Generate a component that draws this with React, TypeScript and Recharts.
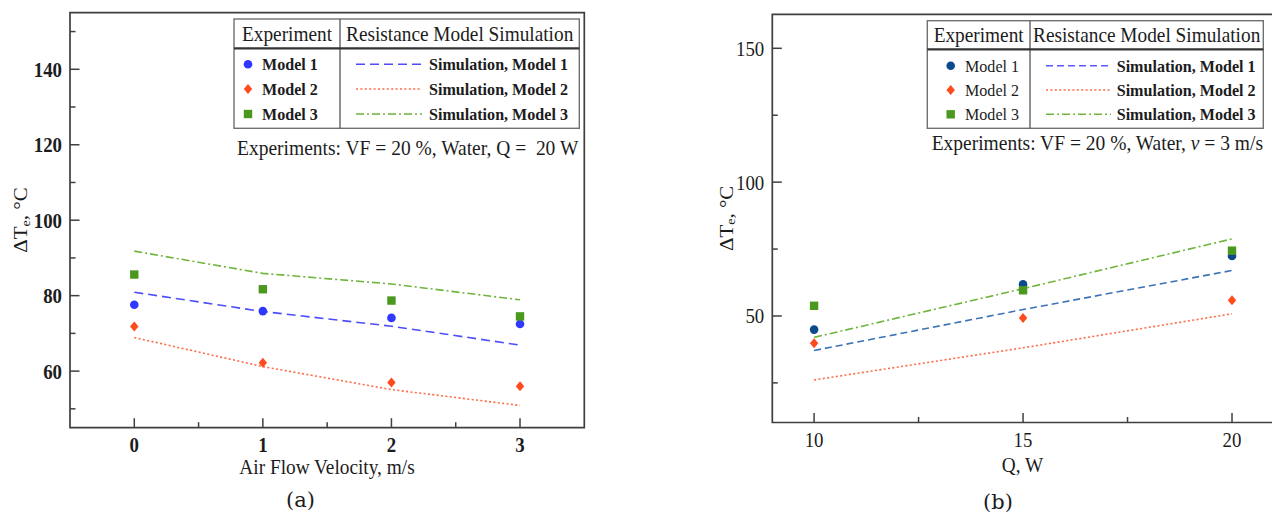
import React from 'react';
import { ComposedChart, Line, Scatter, XAxis, YAxis, ReferenceArea } from 'recharts';

const FONT = '"Liberation Serif", "Times New Roman", Times, serif';
const CAPTION_FONT = '"DejaVu Serif", "Liberation Serif", serif';
const INK = '#1c1c1c';
const FRAME = '#3f3f3f';
const SX = 0.92; // slightly condensed lettering

// ---- Panel (a): temperature rise vs. air flow velocity (Q = 20 W) ----
const velocity = [0, 1, 2, 3];
const velocityTicks = [0, 0.5, 1, 1.5, 2, 2.5, 3];
const velocityLabels = [0, 1, 2, 3];
const dtTicksA = [50, 60, 70, 80, 90, 100, 110, 120, 130, 140, 150];
const dtLabelsA = [60, 80, 100, 120, 140];
const expModel1A = [77.6, 75.9, 74.1, 72.5];
const expModel2A = [71.8, 62.2, 57.0, 56.0];
const expModel3A = [85.6, 81.7, 78.7, 74.5];
const simModel1A = [80.9, 75.8, 71.9, 66.9];
const simModel2A = [68.9, 61.2, 55.1, 50.9];
const simModel3A = [91.8, 85.9, 83.1, 78.9];

// ---- Panel (b): temperature rise vs. heat load (v = 3 m/s) ----
const heatLoad = [10, 15, 20];
const heatTicks = [10, 12.5, 15, 17.5, 20];
const heatLabels = [10, 15, 20];
const dtTicksB = [25, 50, 75, 100, 125, 150];
const dtLabelsB = [50, 100, 150];
const expModel1B = [44.9, 61.8, 72.4];
const expModel2B = [39.8, 49.2, 55.9];
const expModel3B = [53.8, 59.6, 74.4];
const simModel1B = [37.1, 52.4, 67.0];
const simModel2B = [26.1, 38.1, 50.8];
const simModel3B = [42.0, 60.2, 78.8];

const expNames = ['Model 1', 'Model 2', 'Model 3'];
const simNames = ['Simulation, Model 1', 'Simulation, Model 2', 'Simulation, Model 3'];

type MarkerKind = 'circle' | 'diamond' | 'square';

const toPoints = (xs: number[], ys: number[]) => xs.map((x, i) => ({ x, y: ys[i] }));

function Marker({ kind, cx, cy, color }: { kind: MarkerKind; cx: number; cy: number; color: string }) {
  if (kind === 'circle') return <circle cx={cx} cy={cy} r={4.3} fill={color} />;
  if (kind === 'square') return <rect x={cx - 4.2} y={cy - 4.2} width={8.4} height={8.4} fill={color} />;
  return <path d={`M${cx},${cy - 5}L${cx + 4.2},${cy}L${cx},${cy + 5}L${cx - 4.2},${cy}Z`} fill={color} />;
}

function Txt({ x, y, anchor = 'start', size, weight = 400, family = FONT, sx = SX, children }: any) {
  return (
    <text
      transform={`translate(${x} ${y}) scale(${sx} 1)`}
      textAnchor={anchor}
      fontSize={size}
      fontWeight={weight}
      fontFamily={family}
      fill={INK}
      xmlSpace="preserve"
      style={{ whiteSpace: 'pre' }}
    >
      {children}
    </text>
  );
}

// inward-pointing ticks on the left axis; only major values carry a label
const makeLeftTick = (majors: number[], bold: boolean, margin: number) => (props: any) => {
  const { x, y, payload } = props;
  const major = majors.includes(payload.value);
  const ax = x + margin;
  return (
    <g>
      <line x1={ax} x2={ax + (major ? 9.5 : 5.5)} y1={y} y2={y} stroke={FRAME} strokeWidth={1.5} />
      {major && (
        <Txt x={x} y={y + 7.5} anchor="end" size={20.5} weight={bold ? 700 : 400}>
          {String(payload.value)}
        </Txt>
      )}
    </g>
  );
};

// inward-pointing ticks on the bottom axis
const makeBottomTick = (majors: number[], bold: boolean, margin: number) => (props: any) => {
  const { x, y, payload } = props;
  const major = majors.includes(payload.value);
  const ay = y - margin;
  return (
    <g>
      <line x1={x} x2={x} y1={ay} y2={ay - (major ? 9.5 : 5.5)} stroke={FRAME} strokeWidth={1.5} />
      {major && (
        <Txt x={x} y={y} anchor="middle" size={20.5} weight={bold ? 700 : 400}>
          {String(payload.value)}
        </Txt>
      )}
    </g>
  );
};

type ExpSeries = { values: number[]; color: string; kind: MarkerKind };
type SimSeries = { values: number[]; color: string; dash: string; legendColor: string };

function Panel(props: {
  width: number;
  height: number;
  margin: { top: number; right: number; bottom: number; left: number };
  xs: number[];
  xDomain: [number, number];
  xTicks: number[];
  xLabels: number[];
  yDomain: [number, number];
  yTicks: number[];
  yLabels: number[];
  boldTicks: boolean;
  exp: ExpSeries[];
  sim: SimSeries[];
}) {
  const { width, height, margin, xs, xDomain, xTicks, xLabels, yDomain, yTicks, yLabels, boldTicks, exp, sim } = props;
  const xMargin = 24.5;
  const yMargin = 8;
  return (
    <ComposedChart width={width} height={height} margin={margin}>
      <XAxis
        type="number"
        dataKey="x"
        domain={xDomain}
        ticks={xTicks}
        interval={0}
        height={1}
        axisLine={false}
        tickLine={false}
        tickSize={0}
        tickMargin={xMargin}
        tick={makeBottomTick(xLabels, boldTicks, xMargin)}
        allowDataOverflow
      />
      <YAxis
        type="number"
        dataKey="y"
        domain={yDomain}
        ticks={yTicks}
        interval={0}
        width={1}
        axisLine={false}
        tickLine={false}
        tickSize={0}
        tickMargin={yMargin}
        tick={makeLeftTick(yLabels, boldTicks, yMargin)}
        allowDataOverflow
      />
      <ReferenceArea
        x1={xDomain[0]}
        x2={xDomain[1]}
        y1={yDomain[0]}
        y2={yDomain[1]}
        fill="none"
        fillOpacity={0}
        stroke={FRAME}
        strokeWidth={1.7}
        ifOverflow="visible"
      />
      {sim.map((s, i) => (
        <Line
          key={'sim' + i}
          data={toPoints(xs, s.values)}
          dataKey="y"
          type="linear"
          stroke={s.color}
          strokeWidth={1.6}
          strokeDasharray={s.dash}
          dot={false}
          activeDot={false}
          isAnimationActive={false}
        />
      ))}
      {exp.map((e, i) => (
        <Scatter
          key={'exp' + i}
          data={toPoints(xs, e.values)}
          fill={e.color}
          shape={(p: any) => <Marker kind={e.kind} cx={p.cx} cy={p.cy} color={e.color} />}
          isAnimationActive={false}
        />
      ))}
    </ComposedChart>
  );
}

const ORANGE = '#ff4a1e';
const ORANGE_LINE = '#ff6a45';
const GREEN = '#4b981f';
const GREEN_LINE = '#6fb43c';

const expA: ExpSeries[] = [
  { values: expModel1A, color: '#3038ff', kind: 'circle' },
  { values: expModel2A, color: ORANGE, kind: 'diamond' },
  { values: expModel3A, color: GREEN, kind: 'square' },
];
const simA: SimSeries[] = [
  { values: simModel1A, color: '#4d4dff', dash: '9 5', legendColor: '#4d4dff' },
  { values: simModel2A, color: ORANGE_LINE, dash: '2 2.4', legendColor: ORANGE_LINE },
  { values: simModel3A, color: GREEN_LINE, dash: '8 3 2 3', legendColor: GREEN_LINE },
];
const expB: ExpSeries[] = [
  { values: expModel1B, color: '#0c4a8e', kind: 'circle' },
  { values: expModel2B, color: ORANGE, kind: 'diamond' },
  { values: expModel3B, color: GREEN, kind: 'square' },
];
const simB: SimSeries[] = [
  { values: simModel1B, color: '#3c72b6', dash: '7 4', legendColor: '#5a5aff' },
  { values: simModel2B, color: ORANGE_LINE, dash: '2 2.4', legendColor: ORANGE_LINE },
  { values: simModel3B, color: GREEN_LINE, dash: '8 3 2 3', legendColor: GREEN_LINE },
];

type KeyLayout = {
  left: number;
  top: number;
  right: number;
  bottom: number;
  divider: number;
  headerBottom: number;
  rowY: number[];
  symX: number;
  expTextX: number;
  lineX1: number;
  lineX2: number;
  simTextX: number;
  expBold: boolean;
};

function KeyTable({ k, exp, sim }: { k: KeyLayout; exp: ExpSeries[]; sim: SimSeries[] }) {
  return (
    <g>
      <rect x={k.left} y={k.top} width={k.right - k.left} height={k.bottom - k.top} fill="#fff" stroke="#707070" strokeWidth={1.4} />
      <line x1={k.divider} x2={k.divider} y1={k.top} y2={k.bottom} stroke="#555" strokeWidth={1.3} />
      <line x1={k.left} x2={k.right} y1={k.headerBottom} y2={k.headerBottom} stroke="#333" strokeWidth={2.2} />
      <Txt x={(k.left + k.divider) / 2} y={k.headerBottom - 7} anchor="middle" size={21}>Experiment</Txt>
      <Txt x={(k.divider + k.right) / 2} y={k.headerBottom - 7} anchor="middle" size={21}>Resistance Model Simulation</Txt>
      {exp.map((e, i) => (
        <g key={'ke' + i}>
          <Marker kind={e.kind} cx={k.symX} cy={k.rowY[i]} color={e.color} />
          <Txt x={k.expTextX} y={k.rowY[i] + 6} size={17.5} weight={k.expBold ? 700 : 400}>{expNames[i]}</Txt>
        </g>
      ))}
      {sim.map((s, i) => (
        <g key={'ks' + i}>
          <line x1={k.lineX1} x2={k.lineX2} y1={k.rowY[i]} y2={k.rowY[i]} stroke={s.legendColor} strokeWidth={1.5} strokeDasharray={s.dash} />
          <Txt x={k.simTextX} y={k.rowY[i] + 6} size={17.5} weight={700}>{simNames[i]}</Txt>
        </g>
      ))}
    </g>
  );
}

const keyA: KeyLayout = {
  left: 234, top: 19, right: 579.3, bottom: 128.3, divider: 340, headerBottom: 48.3,
  rowY: [64.3, 89, 114], symX: 248, expTextX: 262, lineX1: 356, lineX2: 422, simTextX: 429, expBold: true,
};
const keyB: KeyLayout = {
  left: 927.3, top: 20.7, right: 1263.3, bottom: 128.3, divider: 1030, headerBottom: 49.3,
  rowY: [65.7, 90, 114.3], symX: 950.7, expTextX: 965, lineX1: 1046, lineX2: 1111, simTextX: 1116.7, expBold: false,
};

function YTitle({ cx, cy }: { cx: number; cy: number }) {
  return (
    <text
      transform={`translate(${cx} ${cy}) rotate(-90) scale(1 ${SX})`}
      textAnchor="middle"
      dominantBaseline="central"
      fontSize={21}
      fontFamily={FONT}
      fill={INK}
    >
      ΔT
      <tspan dy={5} fontSize={14}>e</tspan>
      <tspan dy={-5}>, °C</tspan>
    </text>
  );
}

export default function App() {
  return (
    <div style={{ position: 'absolute', left: 0, top: 0, width: 1272, height: 515, overflow: 'hidden', background: '#fff' }}>
      <div style={{ position: 'absolute', left: 0, top: 0 }}>
        <Panel
          width={640}
          height={515}
          margin={{ top: 12.7, right: 55.7, bottom: 86.3, left: 69 }}
          xs={velocity}
          xDomain={[-0.5, 3.5]}
          xTicks={velocityTicks}
          xLabels={velocityLabels}
          yDomain={[45, 155]}
          yTicks={dtTicksA}
          yLabels={dtLabelsA}
          boldTicks={true}
          exp={expA}
          sim={simA}
        />
      </div>
      <div style={{ position: 'absolute', left: 640, top: 0 }}>
        <Panel
          width={640}
          height={515}
          margin={{ top: 14.3, right: 6.2, bottom: 91.5, left: 131.3 }}
          xs={heatLoad}
          xDomain={[9, 21]}
          xTicks={heatTicks}
          xLabels={heatLabels}
          yDomain={[10.2, 162.7]}
          yTicks={dtTicksB}
          yLabels={dtLabelsB}
          boldTicks={false}
          exp={expB}
          sim={simB}
        />
      </div>
      <svg width={1272} height={515} style={{ position: 'absolute', left: 0, top: 0, pointerEvents: 'none' }}>
        <KeyTable k={keyA} exp={expA} sim={simA} />
        <KeyTable k={keyB} exp={expB} sim={simB} />
        <Txt x={578.3} y={155} anchor="end" size={21.2}>Experiments: VF = 20 %, Water, Q =  20 W</Txt>
        <Txt x={1263} y={150} anchor="end" size={21.2}>
          Experiments: VF = 20 %, Water, <tspan fontStyle="italic">v</tspan> = 3 m/s
        </Txt>
        <YTitle cx={20.5} cy={220} />
        <YTitle cx={726} cy={218.4} />
        <Txt x={327} y={474.3} anchor="middle" size={21}>Air Flow Velocity, m/s</Txt>
        <Txt x={1022.5} y={472} anchor="middle" size={21}>Q, W</Txt>
        <Txt x={300.5} y={507} anchor="middle" size={21} family={CAPTION_FONT} sx={1}>(a)</Txt>
        <Txt x={998} y={509} anchor="middle" size={21} family={CAPTION_FONT} sx={1}>(b)</Txt>
      </svg>
    </div>
  );
}
